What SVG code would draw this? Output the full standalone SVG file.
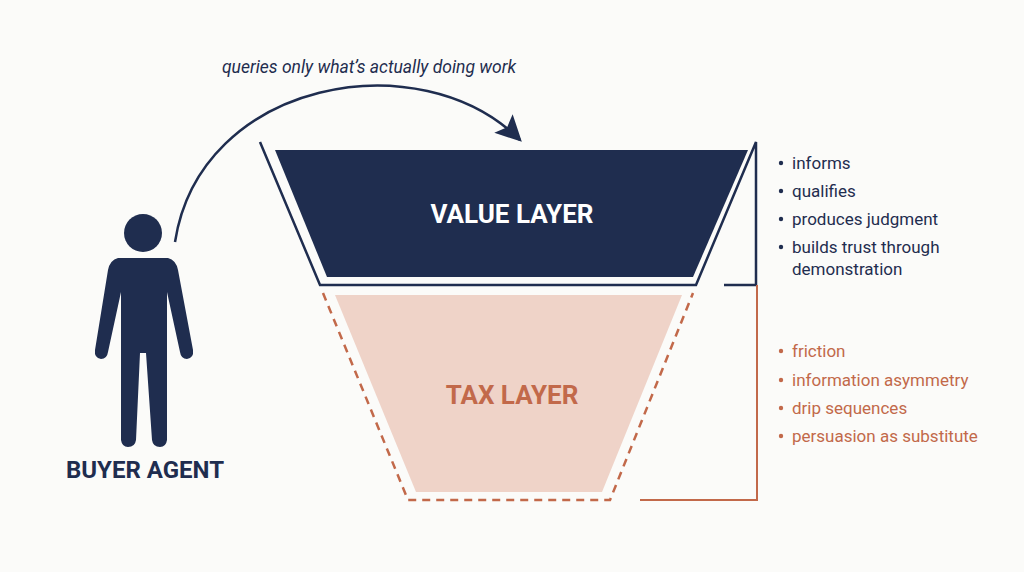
<svg xmlns="http://www.w3.org/2000/svg" width="1024" height="572" viewBox="0 0 1024 572">
<style>
text{font-family:Roboto,"Liberation Sans",sans-serif}
.b{font-size:17px;fill:#1f2d4f}
.o{font-size:17px;fill:#c2694a}
.nav{fill:#1f2d4f}
.db{fill:#1f2d4f}
.do{fill:#c2694a}
</style>
<defs>
<marker id="ah2" viewBox="0 0 10 10" refX="9" refY="5" markerWidth="26" markerHeight="26" markerUnits="userSpaceOnUse" orient="auto"><path d="M0,0L10,5L0,10L2,5z" fill="#1f2d4f"/></marker></defs>
<rect width="1024" height="572" fill="#fbfbf9"/>
<g id="buyer">
<circle cx="143" cy="233" r="19" class="nav"/>
<path class="nav" d="M118,258 L168,258 Q176,260 178,270 L193,350 Q194,358 187,359 Q181,359 180,352 L167,292 L167,440 Q166,447 160,447 Q153,447 152,440 L146,353 L140,353 L136,440 Q135,447 128,447 Q122,447 121,440 L121,292 L108,352 Q107,359 101,359 Q94,358 95,350 L108,270 Q110,260 118,258z"/>
<text x="145" y="478" text-anchor="middle" font-size="24" font-weight="bold" fill="#1f2d4f">BUYER AGENT</text>
</g>
<g id="value">
<polygon points="275,150 748,150 693,277 327,277" fill="#1f2d4f"/>
<polyline points="260,142 320,285 696,285 756,142 756,285 724,285" fill="none" stroke="#1f2d4f" stroke-width="2.5"/>
<text x="512" y="223" text-anchor="middle" font-size="26" font-weight="bold" fill="#fff">VALUE LAYER</text>
</g>
<g id="tax">
<polygon points="335,295 682,295 602,492 416,492" fill="#efd3c8"/>
<polyline points="323,293 408,500 610,500 693,293" fill="none" stroke="#c2694a" stroke-width="2.5" stroke-dasharray="8,6"/>
<polyline points="640,500 757,500 757,285" fill="none" stroke="#c2694a" stroke-width="2"/>
<text x="512" y="404" text-anchor="middle" font-size="26" font-weight="bold" fill="#c2694a">TAX LAYER</text>
</g>
<g id="connectors">
<path d="M175,242 C200,80 420,40 520,140" fill="none" stroke="#1f2d4f" stroke-width="2.5" marker-end="url(#ah2)"/>
<text x="369" y="73" text-anchor="middle" font-size="17.5" font-style="italic" fill="#1f2d4f">queries only what’s actually doing work</text>
</g>
<g id="value-list">
<circle class="db" cx="781" cy="163" r="2.2"/><text class="b" x="792" y="169">informs</text>
<circle class="db" cx="781" cy="191" r="2.2"/><text class="b" x="792" y="197">qualifies</text>
<circle class="db" cx="781" cy="219" r="2.2"/><text class="b" x="792" y="225">produces judgment</text>
<circle class="db" cx="781" cy="247" r="2.2"/><text class="b" x="792" y="253">builds trust through</text>
<text class="b" x="792" y="275">demonstration</text>
</g>
<g id="tax-list">
<circle class="do" cx="781" cy="351" r="2.2"/><text class="o" x="792" y="357">friction</text>
<circle class="do" cx="781" cy="380" r="2.2"/><text class="o" x="792" y="386">information asymmetry</text>
<circle class="do" cx="781" cy="408" r="2.2"/><text class="o" x="792" y="414">drip sequences</text>
<circle class="do" cx="781" cy="436" r="2.2"/><text class="o" x="792" y="442">persuasion as substitute</text>
</g>
</svg>
